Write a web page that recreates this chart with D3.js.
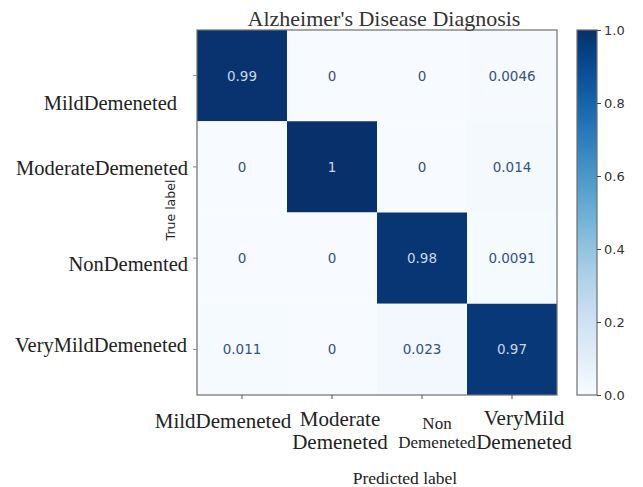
<!DOCTYPE html>
<html>
<head>
<meta charset="utf-8">
<script src="https://cdn.jsdelivr.net/npm/d3@7"></script>
<style>
  html, body { margin: 0; padding: 0; background: #fff; }
  svg { display: block; }
</style>
</head>
<body>
<svg id="chart" width="643" height="487"></svg>
<script>
// Normalised confusion matrix for the four dementia classes
const trueLabels = ["MildDemeneted", "ModerateDemeneted", "NonDemented", "VeryMildDemeneted"];
const predLabels = [["MildDemeneted"], ["Moderate", "Demeneted"], ["Non", "Demeneted"], ["VeryMild", "Demeneted"]];
const predKeys = ["Mild", "Moderate", "Non", "VeryMild"];
const rowMild = [0.99, 0, 0, 0.0046];
const rowModerate = [0, 1, 0, 0.014];
const rowNon = [0, 0, 0.98, 0.0091];
const rowVeryMild = [0.011, 0, 0.023, 0.97];
const colorbarTicks = [0, 0.2, 0.4, 0.6, 0.8, 1.0];

const rows = [rowMild, rowModerate, rowNon, rowVeryMild];
const cells = [];
rows.forEach((r, i) => r.forEach((v, j) => cells.push({ row: trueLabels[i], col: predKeys[j], value: v })));

const svg = d3.select("#chart");
const plot = { left: 197, top: 30, width: 360, height: 365 };

const x = d3.scaleBand().domain(predKeys).range([plot.left, plot.left + plot.width]);
const y = d3.scaleBand().domain(trueLabels).range([plot.top, plot.top + plot.height]);
const color = d3.scaleSequential(d3.interpolateBlues).domain([0, 1]);

// heatmap cells
svg.append("g").selectAll("rect").data(cells).join("rect")
  .attr("x", d => x(d.col)).attr("y", d => y(d.row))
  .attr("width", x.bandwidth()).attr("height", y.bandwidth())
  .attr("fill", d => color(d.value));

// value annotations
svg.append("g").selectAll("text").data(cells).join("text")
  .attr("x", d => x(d.col) + x.bandwidth() / 2)
  .attr("y", d => y(d.row) + y.bandwidth() / 2)
  .attr("text-anchor", "middle").attr("dominant-baseline", "central")
  .attr("font-family", "DejaVu Sans").attr("font-size", 13.5)
  .attr("fill", d => d.value > 0.5 ? "#c9d6ea" : "#34527e")
  .text(d => d3.format("~g")(+d.value.toPrecision(2)));

// frame
svg.append("rect")
  .attr("x", plot.left).attr("y", plot.top)
  .attr("width", plot.width).attr("height", plot.height)
  .attr("fill", "none").attr("stroke", "#6e6e6e").attr("stroke-width", 1.2);

// small tick marks
svg.append("g").selectAll("line").data(predKeys).join("line")
  .attr("x1", d => x(d) + x.bandwidth() / 2).attr("x2", d => x(d) + x.bandwidth() / 2)
  .attr("y1", plot.top + plot.height).attr("y2", plot.top + plot.height + 4)
  .attr("stroke", "#555");
svg.append("g").selectAll("line").data(trueLabels).join("line")
  .attr("y1", d => y(d) + y.bandwidth() / 2).attr("y2", d => y(d) + y.bandwidth() / 2)
  .attr("x1", plot.left).attr("x2", plot.left - 4)
  .attr("stroke", "#888");

// row labels
const yLabelShift = [27, 1, 6, -4];
const yLabelRight = [177, 188, 188, 187];
svg.append("g").selectAll("text").data(trueLabels).join("text")
  .attr("x", (d, i) => yLabelRight[i])
  .attr("y", (d, i) => y(d) + y.bandwidth() / 2 + yLabelShift[i])
  .attr("text-anchor", "end").attr("dominant-baseline", "central")
  .attr("font-family", "Liberation Serif").attr("font-size", 20.5)
  .attr("fill", "#222")
  .text(d => d);

// column labels (one or two lines)
const colLabelSize = [21, 21, 17, 21];
const colLabelTop = [421, 419, 423, 418];
const colLabelGap = [0, 23, 19, 24];
const colLabelDx = [-19, 8, 15, 12];
const colGroups = svg.append("g").selectAll("text").data(predLabels).join("text")
  .attr("text-anchor", "middle")
  .attr("font-family", "Liberation Serif")
  .attr("font-size", (d, i) => colLabelSize[i])
  .attr("fill", "#222");
colGroups.each(function (lines, i) {
  const cx = x(predKeys[i]) + x.bandwidth() / 2 + colLabelDx[i];
  d3.select(this).selectAll("tspan").data(lines).join("tspan")
    .attr("x", cx)
    .attr("y", (l, k) => colLabelTop[i] + k * colLabelGap[i])
    .attr("dominant-baseline", "central")
    .text(l => l);
});

// axis titles
svg.append("text")
  .attr("x", 405).attr("y", 478)
  .attr("text-anchor", "middle").attr("dominant-baseline", "central")
  .attr("font-family", "Liberation Serif").attr("font-size", 17.5)
  .attr("fill", "#222").text("Predicted label");

svg.append("text")
  .attr("transform", "translate(170,210) rotate(-90)")
  .attr("text-anchor", "middle").attr("dominant-baseline", "central")
  .attr("font-family", "DejaVu Sans").attr("font-size", 12.5)
  .attr("fill", "#222").text("True label");

// title
svg.append("text")
  .attr("x", 384).attr("y", 18)
  .attr("text-anchor", "middle").attr("dominant-baseline", "central")
  .attr("font-family", "Liberation Serif").attr("font-size", 22)
  .attr("fill", "#333").text("Alzheimer's Disease Diagnosis");

// colour bar
const cb = { left: 577, top: 30, width: 20, height: 365 };
const defs = svg.append("defs");
const grad = defs.append("linearGradient").attr("id", "cbGrad")
  .attr("x1", 0).attr("y1", 1).attr("x2", 0).attr("y2", 0);
d3.range(0, 1.0001, 0.05).forEach(t => {
  grad.append("stop").attr("offset", t).attr("stop-color", color(t));
});
svg.append("rect")
  .attr("x", cb.left).attr("y", cb.top).attr("width", cb.width).attr("height", cb.height)
  .attr("fill", "url(#cbGrad)").attr("stroke", "#6e6e6e").attr("stroke-width", 1.2);

const cbScale = d3.scaleLinear().domain([0, 1]).range([cb.top + cb.height, cb.top]);
const cbAxis = d3.axisRight(cbScale).tickValues(colorbarTicks).tickFormat(d3.format(".1f")).tickSize(4);
const cbG = svg.append("g").attr("transform", `translate(${cb.left + cb.width},0)`).call(cbAxis);
cbG.select(".domain").remove();
cbG.selectAll("line").attr("stroke", "#444");
cbG.selectAll("text").attr("font-family", "DejaVu Sans").attr("font-size", 13).attr("fill", "#333").attr("x", 7);
</script>
</body>
</html>
